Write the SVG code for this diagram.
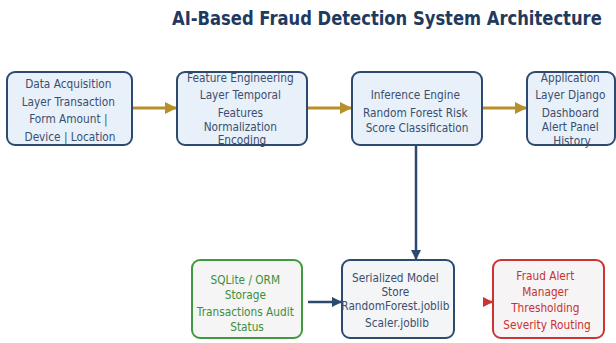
<svg xmlns="http://www.w3.org/2000/svg" width="616" height="343" viewBox="0 0 616 343">
  <defs>
    <marker id="ah-gold" viewBox="0 0 10 10" refX="10" refY="5" markerWidth="4" markerHeight="4" markerUnits="strokeWidth" orient="auto">
      <path d="M0,0 L10,5 L0,10 z" fill="#b8902a"/>
    </marker>
    <marker id="ah-navy" viewBox="0 0 10 10" refX="10" refY="5" markerWidth="4" markerHeight="4" markerUnits="strokeWidth" orient="auto">
      <path d="M0,0 L10,5 L0,10 z" fill="#2c4a6e"/>
    </marker>
    <marker id="ah-red" viewBox="0 0 10 10" refX="10" refY="5" markerWidth="4" markerHeight="4" markerUnits="strokeWidth" orient="auto">
      <path d="M0,0 L10,5 L0,10 z" fill="#cc3333"/>
    </marker>
  </defs>
  <style>
    .title { font-family: "DejaVu Sans", "Liberation Sans", sans-serif; font-weight: bold; font-size: 19px; fill: #1f3a5f; }
    .t { font-family: "DejaVu Sans", "Liberation Sans", sans-serif; font-size: 12px; text-anchor: middle; }
    .box-top { fill: #e8f0fa; stroke: #2c4a6e; stroke-width: 2; }
    .box-navy { fill: #f4f5f7; stroke: #2c4a6e; stroke-width: 2; }
    .box-green { fill: #f4f5f4; stroke: #3f9a3f; stroke-width: 2; }
    .box-red { fill: #f6f4f4; stroke: #cc3333; stroke-width: 2; }
    .tx-navy { fill: #3b4f6e; }
    .tx-green { fill: #3d8f3d; }
    .tx-red { fill: #c83232; }
    .edge-gold { stroke: #b8902a; stroke-width: 3; fill: none; marker-end: url(#ah-gold); }
    .edge-navy { stroke: #2c4a6e; stroke-width: 2.5; fill: none; marker-end: url(#ah-navy); }
    .edge-red { stroke: #cc3333; stroke-width: 2.5; fill: none; marker-end: url(#ah-red); }
  </style>

  <rect width="616" height="343" fill="#ffffff"/>

  <!-- title, narrowed horizontally -->
  <text class="title" transform="translate(172,25) scale(0.75,1)" x="0" y="0" textLength="573" lengthAdjust="spacingAndGlyphs">AI-Based Fraud Detection System Architecture</text>

  <!-- connectors -->
  <g id="edges">
    <line class="edge-gold" x1="133" y1="108" x2="177" y2="108"/>
    <line class="edge-gold" x1="307" y1="108" x2="352" y2="108"/>
    <line class="edge-gold" x1="482" y1="108" x2="527" y2="108"/>
    <line class="edge-navy" x1="416" y1="146" x2="416" y2="260"/>
    <line class="edge-navy" x1="308" y1="302" x2="342" y2="302"/>
    <line class="edge-red" x1="484" y1="302" x2="493" y2="302"/>
  </g>

  <!-- top row -->
  <g id="data-acquisition">
    <rect class="box-top" x="7" y="72" width="125" height="73" rx="8"/>
    <text class="t tx-navy" transform="translate(70,0) scale(0.88,1)">
      <tspan x="0" y="88">Data Acquisition</tspan>
      <tspan x="0" y="106">Layer Transaction</tspan>
      <tspan x="0" y="123">Form Amount |</tspan>
      <tspan x="0" y="141">Device | Location</tspan>
    </text>
  </g>

  <g id="feature-engineering">
    <rect class="box-top" x="177" y="72" width="130" height="73" rx="8"/>
    <text class="t tx-navy" transform="translate(242,0) scale(0.88,1)">
      <tspan x="0" y="82">Feature Engineering</tspan>
      <tspan x="0" y="99">Layer Temporal</tspan>
      <tspan x="0" y="117">Features</tspan>
      <tspan x="0" y="131">Normalization</tspan>
      <tspan x="0" y="144">Encoding</tspan>
    </text>
  </g>

  <g id="inference-engine">
    <rect class="box-top" x="352" y="72" width="130" height="73" rx="8"/>
    <text class="t tx-navy" transform="translate(417,0) scale(0.88,1)">
      <tspan x="0" y="99">Inference Engine</tspan>
      <tspan x="0" y="117">Random Forest Risk</tspan>
      <tspan x="0" y="132">Score Classification</tspan>
    </text>
  </g>

  <g id="application-layer">
    <rect class="box-top" x="527" y="72" width="88" height="73" rx="8"/>
    <text class="t tx-navy" transform="translate(572,0) scale(0.88,1)">
      <tspan x="0" y="82">Application</tspan>
      <tspan x="0" y="99">Layer Django</tspan>
      <tspan x="0" y="117">Dashboard</tspan>
      <tspan x="0" y="131">Alert Panel</tspan>
      <tspan x="0" y="145">History</tspan>
    </text>
  </g>

  <!-- bottom row -->
  <g id="sqlite-storage">
    <rect class="box-green" x="192" y="260" width="110" height="78" rx="8"/>
    <text class="t tx-green" transform="translate(247,0) scale(0.88,1)">
      <tspan x="0" y="284">SQLite / ORM</tspan>
      <tspan x="0" y="299">Storage</tspan>
      <tspan x="0" y="316">Transactions Audit</tspan>
      <tspan x="0" y="331">Status</tspan>
    </text>
  </g>

  <g id="model-store">
    <rect class="box-navy" x="342" y="260" width="112" height="78" rx="8"/>
    <text class="t tx-navy" transform="translate(397,0) scale(0.88,1)">
      <tspan x="0" y="282">Serialized Model</tspan>
      <tspan x="0" y="296">Store</tspan>
      <tspan x="0" y="310">RandomForest.joblib</tspan>
      <tspan x="0" y="327">Scaler.joblib</tspan>
    </text>
  </g>

  <g id="fraud-alert-manager">
    <rect class="box-red" x="493" y="260" width="111" height="78" rx="8"/>
    <text class="t tx-red" transform="translate(547,0) scale(0.88,1)">
      <tspan x="0" y="280">Fraud Alert</tspan>
      <tspan x="0" y="296">Manager</tspan>
      <tspan x="0" y="312">Thresholding</tspan>
      <tspan x="0" y="329">Severity Routing</tspan>
    </text>
  </g>
</svg>
